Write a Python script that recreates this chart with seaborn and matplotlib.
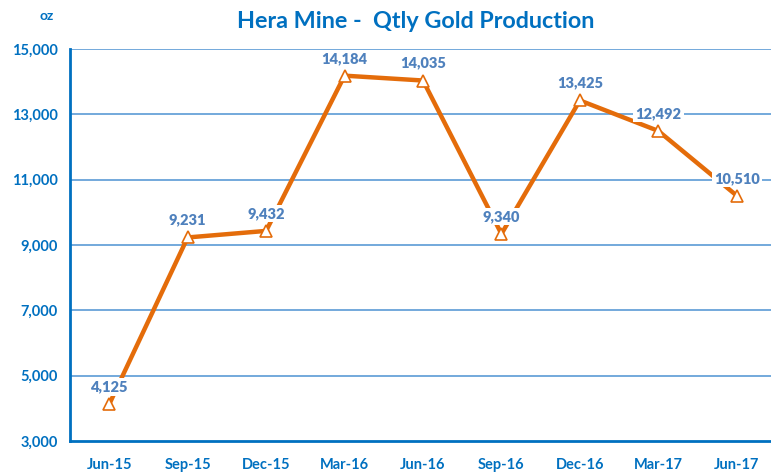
import matplotlib
matplotlib.use("Agg")
import matplotlib.pyplot as plt
import seaborn as sns
import numpy as np
import pandas as pd

quarters = ["Jun-15", "Sep-15", "Dec-15", "Mar-16", "Jun-16", "Sep-16", "Dec-16", "Mar-17", "Jun-17"]
production = [4125, 9231, 9432, 14184, 14035, 9340, 13425, 12492, 10510]
y_ticks = [3000, 5000, 7000, 9000, 11000, 13000, 15000]

sns.set_theme(style="white")
plt.rcParams['font.family'] = ['Lato', 'DejaVu Sans']

DARK_BLUE = "#0070C0"
GRID_BLUE = "#5B9BD5"
LABEL_BLUE = "#4F81BD"
ORANGE = "#E46C0A"

fig = plt.figure(figsize=(7.71, 4.72), dpi=100)
ax = fig.add_axes([70/771, 31/472, 706/771, 392/472])

df = pd.DataFrame({"pos": np.arange(len(quarters)), "oz": production})
sns.lineplot(data=df, x="pos", y="oz", ax=ax, color=ORANGE, linewidth=3.2, sort=False,
             marker="^", markersize=9, markerfacecolor="white", markeredgecolor=ORANGE,
             markeredgewidth=1.2, zorder=3)

for i, v in enumerate(production):
    ax.text(i, v + 330, f"{v:,}", ha="center", va="bottom", fontsize=10.5, fontweight="heavy",
            color=LABEL_BLUE, zorder=4,
            bbox=dict(boxstyle="square,pad=0.15", fc="white", ec="none"))

ax.set_xlim(-0.5, len(quarters) - 0.5)
ax.set_ylim(3000, 15000)
ax.set_yticks(y_ticks)
ax.set_yticklabels([f"{t:,}" for t in y_ticks], fontsize=10.5, fontweight="bold", color=DARK_BLUE)
ax.set_xticks(np.arange(len(quarters)))
ax.set_xticklabels(quarters, fontsize=10.5, fontweight="bold", color=DARK_BLUE)
ax.set_xticks(np.arange(-0.5, len(quarters), 1.0), minor=True)
ax.tick_params(axis="x", which="major", length=0, pad=12)
ax.tick_params(axis="x", which="minor", length=5, width=1.5, color=DARK_BLUE, direction="out")
ax.tick_params(axis="y", which="major", length=5, width=1.5, color=DARK_BLUE, direction="out", pad=4)
ax.set_xlabel("")
ax.set_ylabel("")

for yt in y_ticks[1:]:
    ax.axhline(yt, color=GRID_BLUE, linewidth=1.2, zorder=1)

for s in ["top", "right"]:
    ax.spines[s].set_visible(False)
for s in ["left", "bottom"]:
    ax.spines[s].set_color(DARK_BLUE)
    ax.spines[s].set_linewidth(2)

fig.text(416/771, 1 - 22/472, "Hera Mine -  Qtly Gold Production", ha="center", va="center",
         fontsize=16.8, fontweight="bold", color=DARK_BLUE)
fig.text(47/771, 1 - 16/472, "oz", ha="center", va="center", fontsize=10, fontweight="bold", color=DARK_BLUE)

fig.savefig("out.png", dpi=100, facecolor="white")
